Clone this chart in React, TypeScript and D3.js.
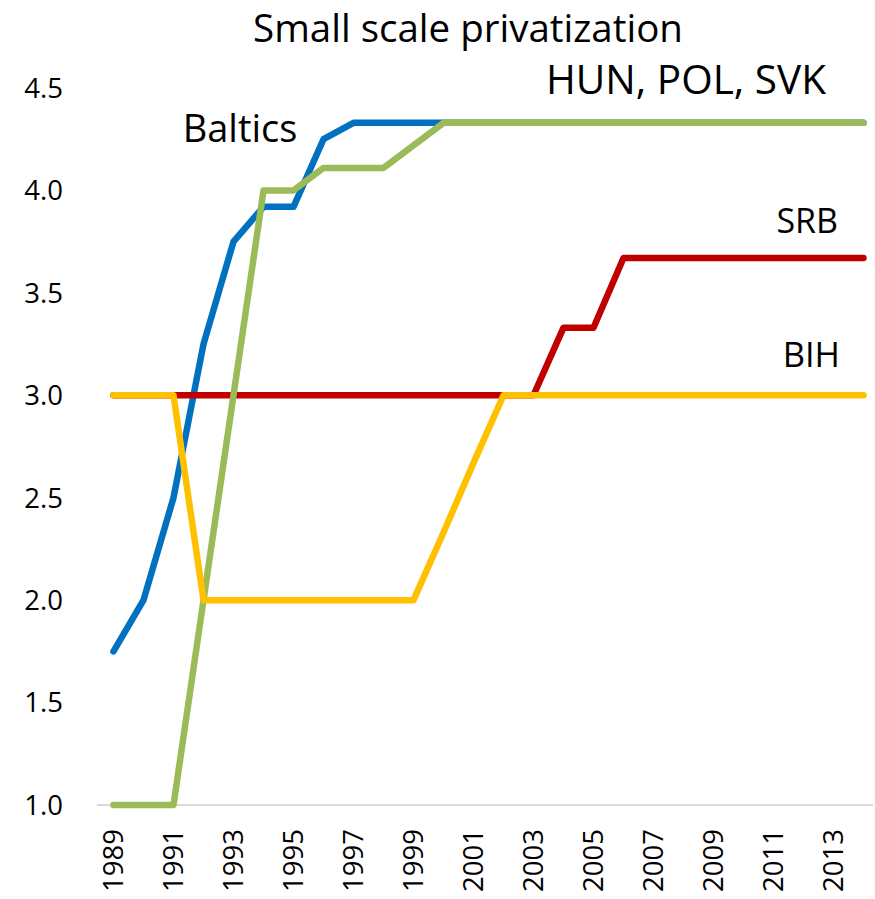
import React from "react";
import * as d3 from "d3";

const years = d3.range(1989, 2015);
const baltics = [1.75, 2.0, 2.5, 3.25, 3.75, 3.92, 3.92, 4.25, 4.33, 4.33, 4.33, 4.33, 4.33, 4.33, 4.33, 4.33, 4.33, 4.33, 4.33, 4.33, 4.33, 4.33, 4.33, 4.33, 4.33, 4.33];
const hunPolSvk = [1.0, 1.0, 1.0, 2.0, 3.0, 4.0, 4.0, 4.11, 4.11, 4.11, 4.22, 4.33, 4.33, 4.33, 4.33, 4.33, 4.33, 4.33, 4.33, 4.33, 4.33, 4.33, 4.33, 4.33, 4.33, 4.33];
const srb = [3.0, 3.0, 3.0, 3.0, 3.0, 3.0, 3.0, 3.0, 3.0, 3.0, 3.0, 3.0, 3.0, 3.0, 3.0, 3.33, 3.33, 3.67, 3.67, 3.67, 3.67, 3.67, 3.67, 3.67, 3.67, 3.67];
const bih = [3.0, 3.0, 3.0, 2.0, 2.0, 2.0, 2.0, 2.0, 2.0, 2.0, 2.0, 2.33, 2.67, 3.0, 3.0, 3.0, 3.0, 3.0, 3.0, 3.0, 3.0, 3.0, 3.0, 3.0, 3.0, 3.0];
const yTicks = [1.0, 1.5, 2.0, 2.5, 3.0, 3.5, 4.0, 4.5];
const xTickYears = d3.range(1989, 2014, 2);

const series = [
  { name: "Baltics", values: baltics, color: "#0070C0" },
  { name: "SRB", values: srb, color: "#C00000" },
  { name: "HUN, POL, SVK", values: hunPolSvk, color: "#9BBB59" },
  { name: "BIH", values: bih, color: "#FFC000" },
];

const W = 875;
const H = 899;
const FONT = "'Open Sans', 'Noto Sans', sans-serif";

export default function App() {
  const x = d3.scaleLinear().domain([1989, 2014]).range([113.5, 863.5]);
  const y = d3.scaleLinear().domain([1.0, 4.5]).range([805, 88]);
  const line = d3
    .line<number>()
    .x((_, i) => x(years[i]))
    .y((d) => y(d));

  return (
    <svg
      width={W}
      height={H}
      style={{ position: "absolute", left: 0, top: 0, background: "#fff" }}
      fontFamily={FONT}
    >
      <rect width={W} height={H} fill="#fff" />
      <text x={468} y={42} textAnchor="middle" fontSize={38.5} fill="#000">
        Small scale privatization
      </text>
      {yTicks.map((t) => (
        <text key={t} x={63} y={y(t)} dy="0.36em" textAnchor="end" fontSize={27.5} fill="#000">
          {t.toFixed(1)}
        </text>
      ))}
      <line x1={97} x2={873} y1={y(1.0)} y2={y(1.0)} stroke="#D9D9D9" strokeWidth={2} />
      {xTickYears.map((yr) => (
        <text
          key={yr}
          transform={`translate(${x(yr)},829) rotate(-90)`}
          textAnchor="end"
          dy="0.36em"
          fontSize={27.5}
          fill="#000"
        >
          {yr}
        </text>
      ))}
      {series.map((s) => (
        <path
          key={s.name}
          d={line(s.values) || ""}
          fill="none"
          stroke={s.color}
          strokeWidth={6.5}
          strokeLinejoin="round"
          strokeLinecap="round"
        />
      ))}
      <text x={240} y={142} textAnchor="middle" fontSize={38} fill="#000">Baltics</text>
      <text x={826} y={94} textAnchor="end" fontSize={40.5} fill="#000">HUN, POL, SVK</text>
      <text x={838} y={233} textAnchor="end" fontSize={34} fill="#000">SRB</text>
      <text x={840} y={367} textAnchor="end" fontSize={34.5} fill="#000">BIH</text>
    </svg>
  );
}
